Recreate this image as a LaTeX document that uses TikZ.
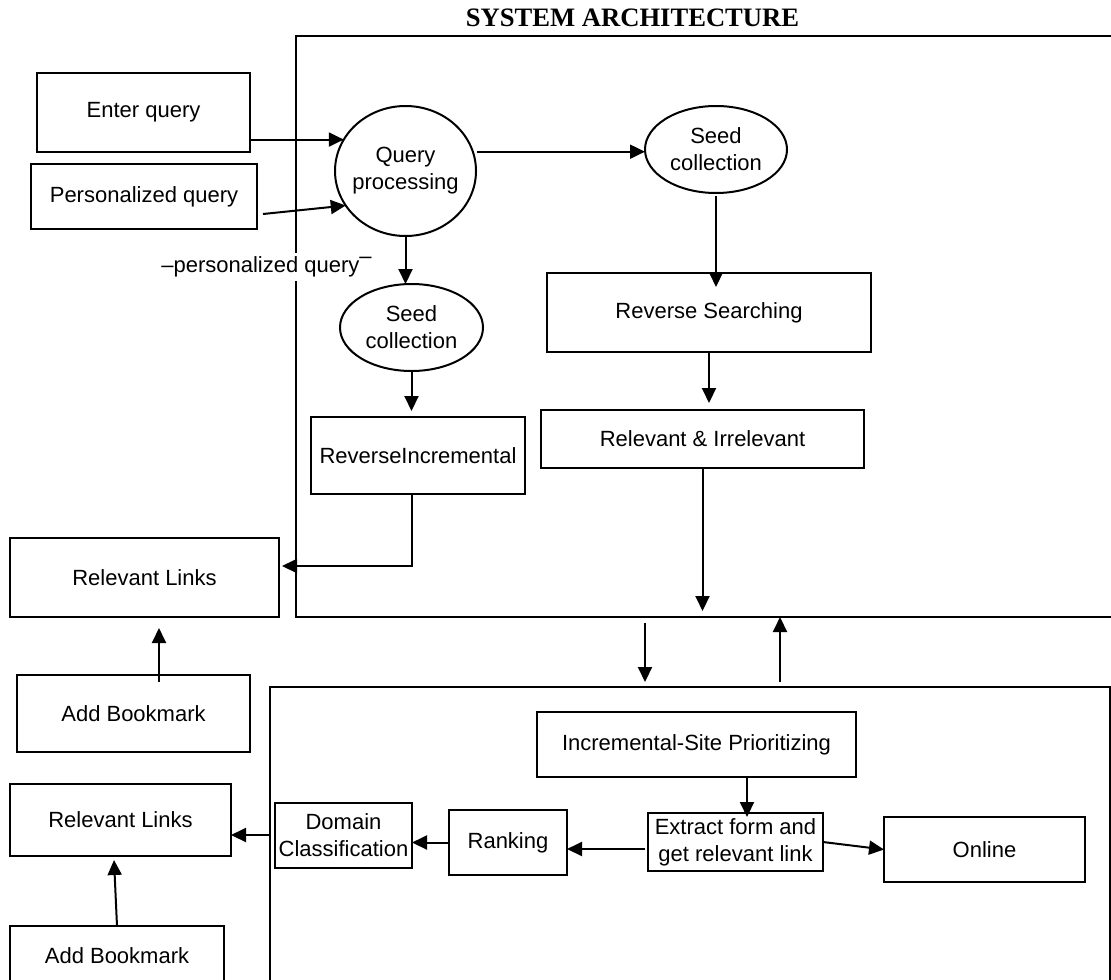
\documentclass[tikz,border=0pt]{standalone}
\usepackage{fontspec}
\setmainfont{Liberation Sans}
\newfontfamily\titlefont{Liberation Serif}
\usetikzlibrary{shapes.geometric,arrows.meta,calc}
% [style]{name}{x1}{y1}{x2}{y2}{text}
\newcommand{\mybox}[7][box]{\node[#1,minimum width={(#5-#3)*0.5pt},minimum height={(#6-#4)*0.5pt}] (#2) at ({(#3+#5)/2},{(#4+#6)/2}) {#7};}
\newcommand{\myoval}[6]{\node[oval,minimum width={(#4-#2)*0.5pt},minimum height={(#5-#3)*0.5pt}] (#1) at ({(#2+#4)/2},{(#3+#5)/2}) {};
\node[align=center,inner sep=0pt] (#1-t) at (#1.center) {#6};}
\begin{document}
\begin{tikzpicture}[x=0.5pt,y=-0.5pt,
  every node/.style={font=\fontsize{11}{13.5}\selectfont},
  lw/.style={line width=1pt},
  box/.style={draw,lw,rectangle,inner sep=0pt,outer sep=0pt,align=center},
  oval/.style={draw,lw,ellipse,inner sep=0pt,outer sep=0pt},
  frame/.style={draw,lw,rectangle,inner sep=0pt,outer sep=0pt},
  arr/.style={lw,-{Triangle[length=7.5pt,width=7pt]}}]
\useasboundingbox (0,0) rectangle (1111,979);
\clip (0,0) rectangle (1111,979);

\node[font=\titlefont\fontsize{13.3}{16}\selectfont\bfseries] (title) at (632.5,17.5) {SYSTEM ARCHITECTURE};

% frames
\mybox[frame]{upf}{296}{36}{1130}{617}{}
\mybox[frame]{lof}{270}{687}{1110}{1010}{}

% upper part
\mybox{eq}{37}{73}{250}{152}{Enter query}
\mybox{pq}{31}{164}{257}{229}{Personalized query}
\myoval{qp}{335}{106}{476}{236}{Query\\processing}
\myoval{sdr}{645}{106}{787}{193}{Seed\\collection}
\mybox{revs}{547}{273}{871}{352}{Reverse Searching}
\mybox{ri}{541}{410}{864}{468}{Relevant \& Irrelevant}
\myoval{sdl}{340}{284}{483}{371}{Seed\\collection}
\mybox{rinc}{311}{417}{525}{494}{ReverseIncremental}
\mybox{rl1}{10}{538}{279}{617}{Relevant Links}
\mybox{ab1}{17}{675}{250}{752}{Add Bookmark}
\mybox{rl2}{10}{784}{231}{856}{Relevant Links}
\mybox{ab2}{10}{926}{224}{986}{Add Bookmark}

% lower part
\mybox{dc}{275}{803}{412}{868}{Domain\\Classification}
\mybox{rk}{449}{810}{567}{875}{Ranking}
\mybox{ex}{648}{813}{823}{871}{Extract form and\\get relevant link}
\mybox{isp}{537}{712}{856}{777}{Incremental-Site Prioritizing}
\mybox{on}{884}{817}{1085}{882}{Online}

% label crossing frame edge
\node[fill=white,inner sep=2pt] (pl) at (266.5,267) {--personalized query\raisebox{0.4em}{--}};

% connectors
\draw[arr] (eq.east |- qp.153) -- (qp.153);
\draw[arr] ($(pq.east)+(6,17.5)$) -- (qp.210);
\draw[arr] ($(qp.16)+(4,0)$) -- (qp.16 -| sdr.west);
\draw[arr] ($(sdr.south)+(0,3)$) -- ($(sdr.south |- revs.north)+(0,14)$);
\draw[arr] (revs.south) -- ($(revs.south |- ri.north)+(0,-7)$);
\draw[arr] (qp.south) -- (qp.south |- sdl.north);
\draw[arr] (sdl.south) -- ($(sdl.south |- rinc.north)+(0,-6)$);
\draw[arr] (ri.south) -- ($(ri.south |- upf.south)+(0,-6)$);
\draw[arr] ($(rinc.south)+(-6,0)$) |- ($(rl1.east)+(3,-11.5)$);
\coordinate (a1) at ($(ab1.north)+(25.5,0)$);
\draw[arr] ($(a1)+(0,7)$) -- ($(a1 |- rl1.south)+(0,11)$);
\coordinate (dnx) at (645,0);
\draw[arr] ($(upf.south -| dnx)+(0,6)$) -- ($(lof.north -| dnx)+(0,-5)$);
\coordinate (upx) at (780,0);
\draw[arr] ($(lof.north -| upx)+(0,-5)$) -- (upf.south -| upx);
\coordinate (rl2in) at ($(rl2.east)+(0,15)$);
\draw[arr] (lof.west |- rl2in) -- (rl2in);
\draw[arr] (ab2.north) -- ($(rl2.south)+(-6.5,4)$);
\draw[arr] (rk.west) -- (rk.west -| dc.east);
\draw[arr] ($(ex.west)+(-3,7)$) -- ($(ex.west -| rk.east)+(0,7)$);
\coordinate (ia) at ($(isp.south)+(50.5,0)$);
\draw[arr] (ia) -- ($(ia |- ex.north)+(0,4)$);
\draw[arr] (ex.east) -- (on.west);
\end{tikzpicture}
\end{document}
